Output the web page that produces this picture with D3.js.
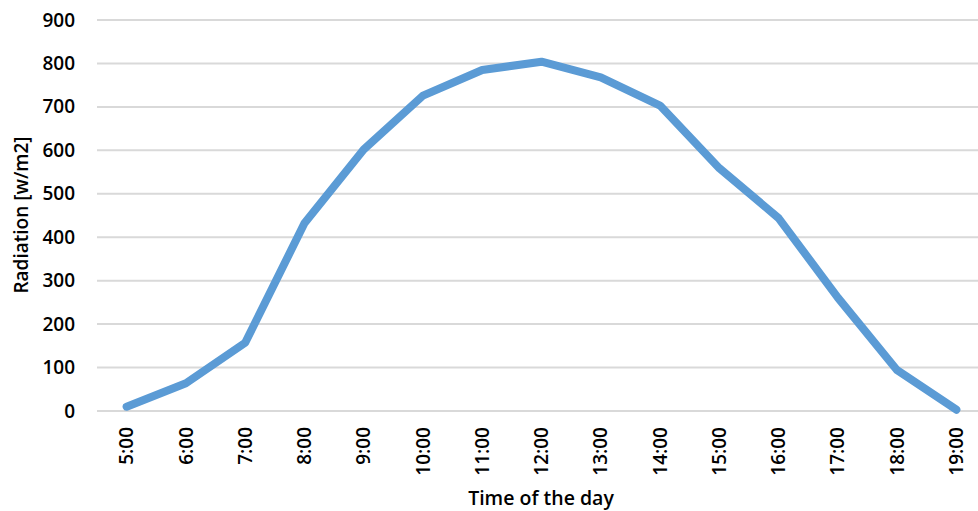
<!DOCTYPE html>
<html>
<head>
<meta charset="utf-8">
<script src="https://cdn.jsdelivr.net/npm/d3@7"></script>
<style>
  body { margin: 0; background: #fff; }
  svg text { font-family: "Open Sans", "Noto Sans", sans-serif; fill: #000; }
</style>
</head>
<body>
<svg id="chart" width="978" height="511"></svg>
<script>
const hours = ["5:00", "6:00", "7:00", "8:00", "9:00", "10:00", "11:00", "12:00",
  "13:00", "14:00", "15:00", "16:00", "17:00", "18:00", "19:00"];
const radiation = [10, 64, 157, 432, 602, 726, 785, 804, 768, 703, 559, 444, 261, 94, 3];
const yTicks = [0, 100, 200, 300, 400, 500, 600, 700, 800, 900];

const svg = d3.select("#chart");
const margin = { top: 20, right: -8, bottom: 100, left: 97 };
const width = 978 - margin.left - margin.right;
const height = 511 - margin.top - margin.bottom;

const g = svg.append("g").attr("transform", `translate(${margin.left},${margin.top})`);

const x = d3.scaleBand().domain(hours).range([0, width]);
const y = d3.scaleLinear().domain([0, 900]).range([height, 0]);

// gridlines
g.selectAll(".grid")
  .data(yTicks)
  .join("line")
  .attr("class", "grid")
  .attr("x1", 0)
  .attr("x2", width)
  .attr("y1", d => y(d))
  .attr("y2", d => y(d))
  .attr("stroke", "#d9d9d9")
  .attr("stroke-width", 2);

// y axis
const yAxis = g.append("g")
  .call(d3.axisLeft(y).tickValues(yTicks).tickSize(0).tickPadding(22));
yAxis.select(".domain").remove();
yAxis.selectAll("text").style("font-size", "19px").style("font-weight", 600);

// x axis
const xAxis = g.append("g")
  .attr("transform", `translate(0,${height})`)
  .call(d3.axisBottom(x).tickSize(0));
xAxis.select(".domain").remove();
xAxis.selectAll("text")
  .attr("transform", "rotate(-90)")
  .attr("text-anchor", "end")
  .attr("x", -16)
  .attr("y", 0)
  .attr("dy", "0.35em")
  .style("font-size", "19px")
  .style("font-weight", 600);

// line
const line = d3.line()
  .x((d, i) => x(hours[i]) + x.bandwidth() / 2)
  .y(d => y(d));

g.append("path")
  .datum(radiation)
  .attr("fill", "none")
  .attr("stroke", "#5b9bd5")
  .attr("stroke-width", 8)
  .attr("stroke-linejoin", "round")
  .attr("stroke-linecap", "round")
  .attr("d", line);

// axis titles
svg.append("text")
  .attr("x", 541)
  .attr("y", 505)
  .attr("text-anchor", "middle")
  .style("font-size", "19.5px")
  .style("font-weight", 600)
  .text("Time of the day");

svg.append("text")
  .attr("transform", "translate(28,215) rotate(-90)")
  .attr("text-anchor", "middle")
  .style("font-size", "19px")
  .style("font-weight", 600)
  .text("Radiation [w/m2]");
</script>
</body>
</html>
